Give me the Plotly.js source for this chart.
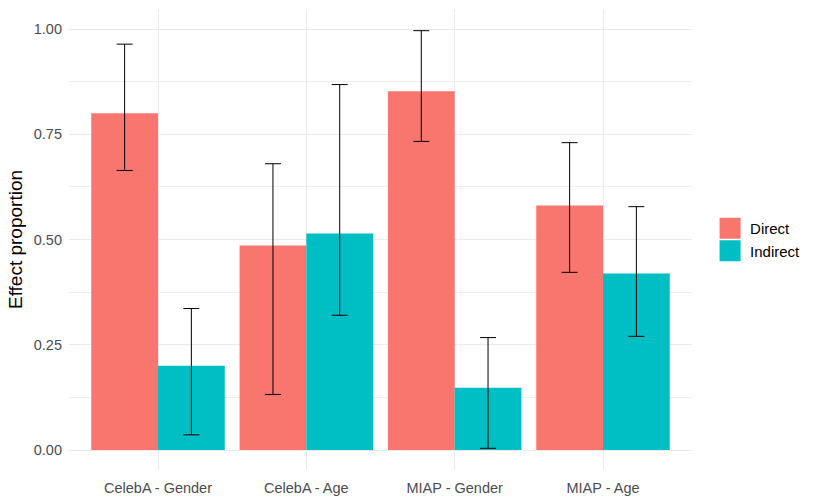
<!DOCTYPE html>
<html>
<head>
<meta charset="utf-8">
<script src="https://cdn.plot.ly/plotly-3.0.1.min.js"></script>
<style>html,body{margin:0;padding:0;background:#fff;}#chart{width:818px;height:504px;}</style>
</head>
<body>
<div id="chart"></div>
<script>
const categories = ["CelebA - Gender", "CelebA - Age", "MIAP - Gender", "MIAP - Age"];
const directValues = [0.800, 0.486, 0.852, 0.581];
const directUpper = [0.964, 0.680, 0.996, 0.730];
const directLower = [0.664, 0.132, 0.733, 0.422];
const indirectValues = [0.200, 0.514, 0.148, 0.419];
const indirectUpper = [0.336, 0.868, 0.267, 0.578];
const indirectLower = [0.036, 0.320, 0.004, 0.270];
const yTickVals = [0, 0.25, 0.5, 0.75, 1.0];
const yTickText = ["0.00", "0.25", "0.50", "0.75", "1.00"];

function errs(vals, up, lo) {
  return {
    type: 'data', symmetric: false,
    array: up.map((u, i) => u - vals[i]),
    arrayminus: lo.map((l, i) => vals[i] - l),
    color: '#000000', thickness: 1, width: 8
  };
}

const font = "Liberation Sans, Arial, sans-serif";
const data = [
  {type: 'bar', name: 'Direct', x: categories, y: directValues,
   marker: {color: '#F8766D'}, error_y: errs(directValues, directUpper, directLower)},
  {type: 'bar', name: 'Indirect', x: categories, y: indirectValues,
   marker: {color: '#00BFC4'}, error_y: errs(indirectValues, indirectUpper, indirectLower)}
];

const layout = {
  width: 818, height: 504,
  margin: {l: 69, r: 126, t: 9, b: 34},
  paper_bgcolor: '#ffffff', plot_bgcolor: '#ffffff',
  barmode: 'group', bargap: 0.1, bargroupgap: 0,
  font: {family: font, color: '#4D4D4D'},
  xaxis: {
    type: 'category', range: [-0.6, 3.6],
    showgrid: true, gridcolor: '#EBEBEB', gridwidth: 1,
    zeroline: false, showline: false, ticks: '',
    tickfont: {size: 14.5, color: '#4D4D4D'}, ticklabelstandoff: 7
  },
  yaxis: {
    range: [-0.0475, 1.0475],
    tickvals: yTickVals, ticktext: yTickText,
    showgrid: true, gridcolor: '#EBEBEB', gridwidth: 1,
    minor: {dtick: 0.125, tick0: 0, showgrid: true, gridcolor: '#F0F0F0', gridwidth: 1, ticks: ''},
    zeroline: false, showline: false, ticks: '',
    tickfont: {size: 14.5, color: '#4D4D4D'}, ticklabelstandoff: 6,
    title: {text: 'Effect proportion', font: {size: 19, color: '#000000'}, standoff: 6}
  },
  legend: {
    x: 1.029, xanchor: 'left', y: 0.5, yanchor: 'middle',
    font: {size: 15, color: '#000000'}, tracegroupgap: 0,
    itemwidth: 30
  },
  showlegend: true
};

Plotly.newPlot('chart', data, layout, {displayModeBar: false, staticPlot: true}).then(function (gd) {
  gd.querySelectorAll('.legend .legendpoints path').forEach(function (p) {
    p.setAttribute('d', 'M10.5,10.5H-10.5V-10.5H10.5Z');
  });
});
</script>
</body>
</html>
